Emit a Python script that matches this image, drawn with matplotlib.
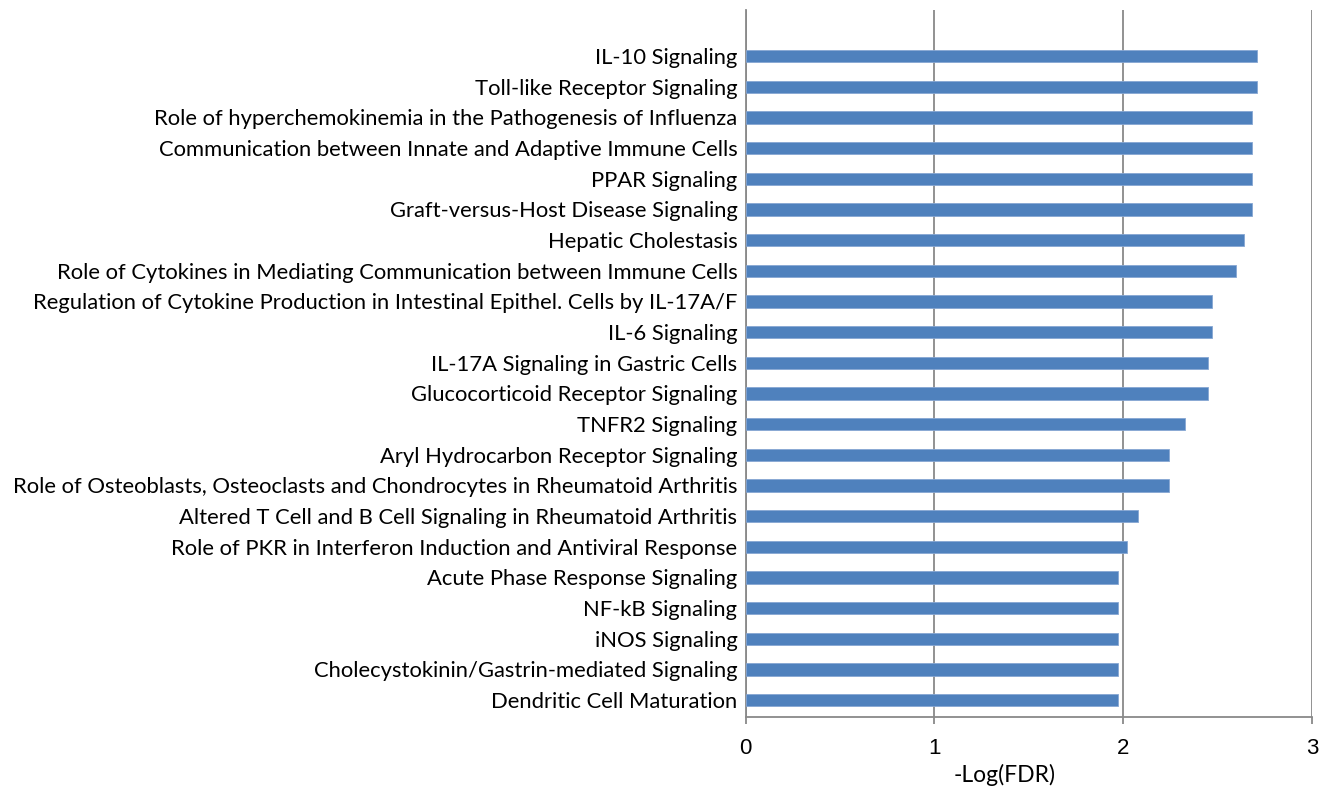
import matplotlib
matplotlib.use("Agg")
import matplotlib.pyplot as plt

# Canonical pathways, top to bottom, with -log10(FDR) scores
pathways = [
    "IL-10 Signaling",
    "Toll-like Receptor Signaling",
    "Role of hyperchemokinemia in the Pathogenesis of Influenza",
    "Communication between Innate and Adaptive Immune Cells",
    "PPAR Signaling",
    "Graft-versus-Host Disease Signaling",
    "Hepatic Cholestasis",
    "Role of Cytokines in Mediating Communication between Immune Cells",
    "Regulation of Cytokine Production in Intestinal Epithel. Cells by IL-17A/F",
    "IL-6 Signaling",
    "IL-17A Signaling in Gastric Cells",
    "Glucocorticoid Receptor Signaling",
    "TNFR2 Signaling",
    "Aryl Hydrocarbon Receptor Signaling",
    "Role of Osteoblasts, Osteoclasts and Chondrocytes in Rheumatoid Arthritis",
    "Altered T Cell and B Cell Signaling in Rheumatoid Arthritis",
    "Role of PKR in Interferon Induction and Antiviral Response",
    "Acute Phase Response Signaling",
    "NF-kB Signaling",
    "iNOS Signaling",
    "Cholecystokinin/Gastrin-mediated Signaling",
    "Dendritic Cell Maturation",
]
neg_log_fdr = [2.71, 2.71, 2.68, 2.68, 2.68, 2.68, 2.64, 2.60, 2.47, 2.47, 2.45,
               2.45, 2.33, 2.24, 2.24, 2.08, 2.02, 1.97, 1.97, 1.97, 1.97, 1.97]
x_ticks = [0, 1, 2, 3]

bar_color = "#4F81BD"
grid_color = "#898989"

fig = plt.figure(figsize=(13.22, 7.9), dpi=100)
ax = fig.add_axes([0.5641, 0.0924, 0.4283, 0.8949])

ypos = list(range(len(pathways)))
ax.barh(ypos, neg_log_fdr, height=0.4, color=bar_color,
        edgecolor="#86A6D3", linewidth=0.6, zorder=3)

ax.set_xlim(0, 3)
ax.set_ylim(len(pathways) - 0.45, -1.5)
ax.set_xticks(x_ticks)
ax.set_xticklabels([str(t) for t in x_ticks], fontsize=16,
                   fontfamily="Liberation Sans")
ax.set_yticks(ypos)
ax.set_yticklabels(pathways, fontsize=15.8, fontfamily="Lato")

ax.tick_params(axis="y", length=0, pad=6)
ax.tick_params(axis="x", length=5, width=1.3, color=grid_color,
               direction="out", pad=10)

ax.grid(axis="x", color=grid_color, linewidth=1.3, zorder=0)
ax.set_axisbelow(True)
for side in ["top", "right"]:
    ax.spines[side].set_visible(False)
for side in ["left", "bottom"]:
    ax.spines[side].set_color(grid_color)
    ax.spines[side].set_linewidth(1.3)

fig.text(0.760, 0.019, "-Log(FDR)", ha="center", va="center",
         fontsize=16.5, fontfamily="Lato")

fig.savefig("out.png", dpi=100, facecolor="white")
